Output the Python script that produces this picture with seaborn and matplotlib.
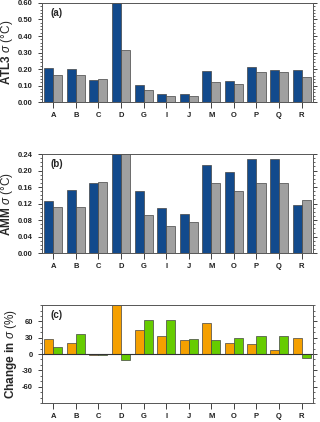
import numpy as np
import pandas as pd
import matplotlib
matplotlib.use("Agg")
import matplotlib.pyplot as plt
from matplotlib.ticker import MultipleLocator, FormatStrFormatter
import seaborn as sns

categories = ["A", "B", "C", "D", "G", "I", "J", "M", "O", "P", "Q", "R"]

atl3_s1 = [0.208, 0.200, 0.133, 0.62, 0.105, 0.052, 0.048, 0.187, 0.129, 0.210, 0.194, 0.196]
atl3_s2 = [0.165, 0.165, 0.138, 0.315, 0.073, 0.040, 0.038, 0.120, 0.108, 0.180, 0.180, 0.152]

amm_s1 = [0.127, 0.154, 0.170, 0.26, 0.151, 0.109, 0.096, 0.214, 0.196, 0.228, 0.227, 0.117]
amm_s2 = [0.113, 0.112, 0.172, 0.25, 0.093, 0.067, 0.075, 0.169, 0.151, 0.170, 0.170, 0.128]

chg_atl3 = [27, 21, -2, 95, 45, 33, 25, 58, 21, 18, 8, 30]
chg_amm = [13, 36, -1, -11, 63, 63, 27, 25, 29, 34, 33, -7]

sns.set_theme(style="ticks")
plt.rcParams["font.family"] = ["Liberation Sans", "DejaVu Sans"]
plt.rcParams["mathtext.fontset"] = "custom"
plt.rcParams["mathtext.rm"] = "Liberation Sans"
plt.rcParams["mathtext.it"] = "Liberation Sans:italic"
plt.rcParams["mathtext.bf"] = "Liberation Sans:bold"

fig = plt.figure(figsize=(3.2, 4.22), dpi=100)

panels = [
    dict(s1=atl3_s1, s2=atl3_s2, colors=["#124a8c", "#a0a0a0"], ylim=(0, 0.60),
         major=0.10, minor=0.02, fmt="%.2f", label=r"$\mathbf{ATL3}$ $\sigma$ (°C)", tag="(a)",
         pos=[0.131, 0.758, 0.847, 0.235], ticks=None),
    dict(s1=amm_s1, s2=amm_s2, colors=["#124a8c", "#a0a0a0"], ylim=(0, 0.24),
         major=0.04, minor=0.01, fmt="%.2f", label=r"$\mathbf{AMM}$ $\sigma$ (°C)", tag="(b)",
         pos=[0.131, 0.400, 0.847, 0.235], ticks=None),
    dict(s1=chg_atl3, s2=chg_amm, colors=["#f5a000", "#66cc00"], ylim=(-90, 90),
         major=30, minor=10, fmt="%d", label=r"$\mathbf{Change\ in}$ $\sigma$ (%)", tag="(c)",
         pos=[0.131, 0.045, 0.847, 0.232], ticks=[-60, -30, 0, 30, 60]),
]

for p in panels:
    ax = fig.add_axes(p["pos"])
    df = pd.DataFrame({
        "cat": categories * 2,
        "val": list(p["s1"]) + list(p["s2"]),
        "series": ["s1"] * len(categories) + ["s2"] * len(categories),
    })
    sns.barplot(data=df, x="cat", y="val", hue="series", order=categories,
                hue_order=["s1", "s2"], palette=p["colors"], width=0.8,
                edgecolor="#444444", linewidth=0.5, saturation=1,
                legend=False, ax=ax, errorbar=None)
    ax.set_xlim(-0.5, len(categories) - 0.5)
    ax.set_ylim(*p["ylim"])
    if p["ticks"] is not None:
        ax.set_yticks(p["ticks"])
        ax.axhline(0, color="#333333", lw=0.8, zorder=3)
    else:
        ax.yaxis.set_major_locator(MultipleLocator(p["major"]))
    ax.yaxis.set_minor_locator(MultipleLocator(p["minor"]))
    ax.yaxis.set_major_formatter(FormatStrFormatter(p["fmt"]))
    ax.set_xlabel("")
    ax.set_ylabel(p["label"], fontsize=8.5, labelpad=2)
    ax.tick_params(axis="both", which="major", labelsize=5.5, length=3, width=0.6,
                   direction="out", colors="#222222")
    ax.tick_params(axis="y", which="both", right=True)
    ax.tick_params(axis="y", which="minor", length=1.5, width=0.5, right=True)
    ax.tick_params(axis="x", which="major", length=4, pad=3)
    for lab in ax.get_xticklabels() + ax.get_yticklabels():
        lab.set_fontweight("bold")
    for sp in ax.spines.values():
        sp.set_linewidth(0.7)
        sp.set_color("#555555")
    ax.text(0.03, 0.95, p["tag"], transform=ax.transAxes, fontsize=7,
            fontweight="bold", va="top", ha="left")

fig.savefig("out.png", dpi=100)
